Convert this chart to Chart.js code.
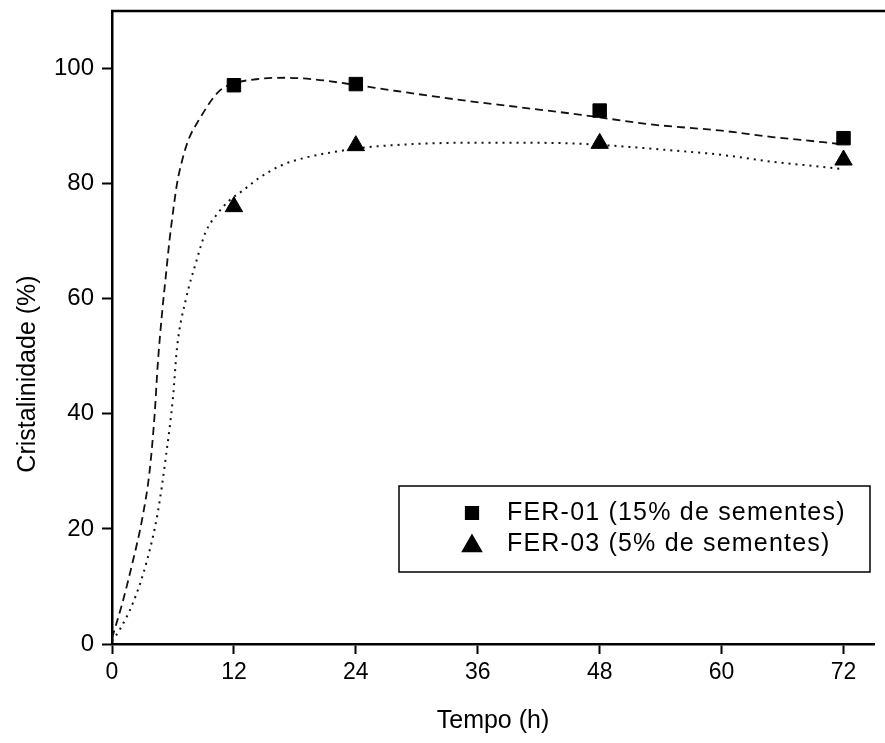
<!DOCTYPE html>
<html>
<head>
<meta charset="utf-8">
<script src="https://cdn.jsdelivr.net/npm/chart.js@4"></script>
<style>
  body { margin: 0; background: #fff; }
  #wrap { width: 885px; height: 743px; position: relative; }
</style>
</head>
<body>
<div id="wrap"><canvas id="chart"></canvas></div>
<script>
// measured points
const tempo = [12, 24, 48, 72];
const fer01 = [97.1, 97.3, 92.7, 87.9];
const fer03 = [76.0, 86.6, 87.0, 84.1];

// fitted curves
const fit01X = [0, 1, 2, 3, 3.7, 4.2, 4.5, 4.9, 5.3, 5.65, 6.0, 6.4, 6.9, 7.5, 8.6, 10.5, 12, 14.5, 17, 20, 23, 28, 34, 40, 46, 53, 60, 65, 70, 72];
const fit01Y = [1, 7, 14, 22, 30, 40, 48.5, 57, 64, 70, 75, 80, 84, 87.5, 91.2, 96, 97.4, 98.2, 98.4, 98.1, 97.4, 96.1, 94.6, 93.3, 92, 90.3, 89.2, 88.1, 87.2, 86.8];
const fit03X = [0, 0.8, 2.1, 3.4, 4.5, 5.3, 6.0, 6.4, 7.3, 8.3, 9.2, 10.3, 11.5, 12.8, 14.5, 16.7, 19, 21.5, 25, 30, 35, 40, 45, 50, 55, 60, 65, 70, 72];
const fit03Y = [0.5, 2.6, 7.3, 14.2, 22.8, 32.5, 42.8, 51.5, 60.1, 66.5, 71.5, 74.6, 77, 78.7, 81, 83.2, 84.5, 85.4, 86.3, 86.9, 87.1, 87.1, 87, 86.5, 85.8, 85.0, 83.8, 82.9, 82.5];

const xTicks = [0, 12, 24, 36, 48, 60, 72];
const yTicks = [0, 20, 40, 60, 80, 100];

const labels = ['FER-01 (15% de sementes)', 'FER-03 (5% de sementes)'];
const yTitle = 'Cristalinidade (%)';

const FONT = '"Liberation Sans", Arial, sans-serif';

function toXY(xs, ys) {
    return xs.map((x, i) => ({ x: x, y: ys[i] }));
}

const frame = {
    id: 'frame',
    afterDraw(chart) {
        const ctx = chart.ctx;
        const a = chart.chartArea;
        ctx.save();
        ctx.strokeStyle = '#000';
        ctx.lineWidth = 2.5;
        ctx.beginPath();
        ctx.moveTo(a.left - 1, a.top);
        ctx.lineTo(chart.width, a.top);
        ctx.stroke();
        // y axis title, sits a bit below the middle of the axis
        ctx.fillStyle = '#000';
        ctx.font = '25px ' + FONT;
        ctx.textAlign = 'center';
        ctx.textBaseline = 'middle';
        ctx.translate(28, 374);
        ctx.rotate(-Math.PI / 2);
        ctx.fillText(yTitle, 0, 0);
        ctx.restore();
    }
};

// legend box drawn inside the plot
const boxLegend = {
    id: 'boxLegend',
    afterDraw(chart) {
        const ctx = chart.ctx;
        ctx.save();
        ctx.fillStyle = '#fff';
        ctx.fillRect(399, 486, 471, 86);
        ctx.strokeStyle = '#000';
        ctx.lineWidth = 1.5;
        ctx.strokeRect(399, 486, 471, 86);
        const rows = [
            { ds: chart.data.datasets[0], y: 513 },
            { ds: chart.data.datasets[1], y: 544 }
        ];
        rows.forEach(r => {
            ctx.fillStyle = '#000';
            ctx.strokeStyle = '#000';
            const tri = r.ds.pointStyle === 'triangle';
            Chart.helpers.drawPoint(ctx, {
                pointStyle: r.ds.pointStyle,
                radius: tri ? 11 : 9,
                borderWidth: 1
            }, 472, tri ? r.y + 2 : r.y);
            ctx.font = '25px ' + FONT;
            ctx.letterSpacing = '1.2px';
            ctx.textBaseline = 'middle';
            ctx.textAlign = 'left';
            ctx.fillText(r.ds.label, 507, r.y);
        });
        ctx.restore();
    }
};

const chartCanvas = document.getElementById('chart').getContext('2d');

new Chart(chartCanvas, {
    type: 'scatter',
    data: {
        datasets: [{
            label: labels[0],
            data: toXY(tempo, fer01),
            pointStyle: 'rect',
            pointRadius: 9.5,
            backgroundColor: '#000',
            borderColor: '#000',
            borderWidth: 1,
            order: 0
        }, {
            label: labels[1],
            data: toXY(tempo, fer03),
            pointStyle: 'triangle',
            pointRadius: 10,
            backgroundColor: '#000',
            borderColor: '#000',
            borderWidth: 1,
            order: 0
        }, {
            label: 'fit FER-01',
            data: toXY(fit01X, fit01Y),
            showLine: true,
            pointRadius: 0,
            borderColor: '#111',
            borderWidth: 1.8,
            borderDash: [8, 5],
            cubicInterpolationMode: 'monotone',
            order: 1
        }, {
            label: 'fit FER-03',
            data: toXY(fit03X, fit03Y),
            showLine: true,
            pointRadius: 0,
            borderColor: '#111',
            borderWidth: 2,
            borderDash: [2, 5],
            cubicInterpolationMode: 'monotone',
            order: 1
        }]
    },
    options: {
        responsive: true,
        maintainAspectRatio: false,
        animation: false,
        layout: { padding: { top: 9, right: 0, left: 0, bottom: 0 } },
        plugins: {
            legend: { display: false },
            tooltip: { enabled: false }
        },
        scales: {
            x: {
                type: 'linear',
                min: 0,
                max: 75,
                afterBuildTicks: axis => { axis.ticks = xTicks.map(v => ({ value: v })); },
                afterFit: scale => {
                    scale.height = 99;
                    scale.paddingLeft = 0;
                    scale.paddingRight = 0;
                },
                grid: {
                    drawOnChartArea: false,
                    drawTicks: true,
                    tickLength: 10,
                    tickWidth: 2,
                    tickColor: '#000'
                },
                border: { display: true, color: '#000', width: 2.5 },
                ticks: {
                    color: '#000',
                    padding: 5,
                    maxRotation: 0,
                    font: { family: FONT, size: 23 }
                },
                title: {
                    display: true,
                    text: 'Tempo (h)',
                    color: '#000',
                    padding: { top: 0, bottom: 7 },
                    font: { family: FONT, size: 25 }
                }
            },
            y: {
                min: 0,
                max: 110,
                afterBuildTicks: axis => { axis.ticks = yTicks.map(v => ({ value: v })); },
                afterFit: scale => {
                    scale.width = 112;
                    scale.paddingTop = 0;
                    scale.paddingBottom = 0;
                },
                grid: {
                    drawOnChartArea: false,
                    drawTicks: true,
                    tickLength: 10,
                    tickWidth: 2,
                    tickColor: '#000'
                },
                border: { display: true, color: '#000', width: 2.5 },
                ticks: {
                    color: '#000',
                    padding: 8,
                    font: { family: FONT, size: 24 }
                }
            }
        }
    },
    plugins: [frame, boxLegend]
});
</script>
</body>
</html>
